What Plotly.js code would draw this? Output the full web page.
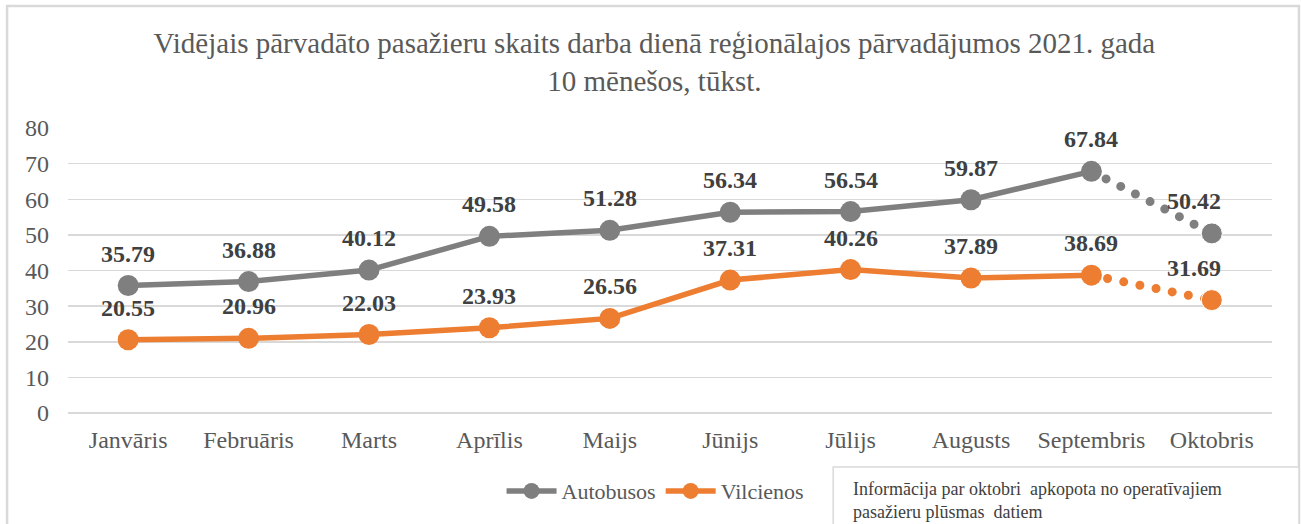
<!DOCTYPE html>
<html>
<head>
<meta charset="utf-8">
<script src="https://cdn.plot.ly/plotly-3.0.1.min.js"></script>
<style>
html,body{margin:0;padding:0;background:#fff;}
.scatterlayer path.js-line{stroke-linecap:round;}
</style>
</head>
<body>
<div id="chart" style="width:1301px;height:524px;"></div>
<script>
var months = ["Janvāris","Februāris","Marts","Aprīlis","Maijs","Jūnijs","Jūlijs","Augusts","Septembris","Oktobris"];
var autobusos = [35.79, 36.88, 40.12, 49.58, 51.28, 56.34, 56.54, 59.87, 67.84, 50.42];
var vilcienos = [20.55, 20.96, 22.03, 23.93, 26.56, 37.31, 40.26, 37.89, 38.69, 31.69];
var seriesNames = ["Autobusos","Vilcienos"];
var titleText = "Vidējais pārvadāto pasažieru skaits darba dienā reģionālajos pārvadājumos 2021. gada<br>10 mēnešos, tūkst.";
var noteText = "Informācija par oktobri  apkopota no operatīvajiem<br>pasažieru plūsmas  datiem";

var GRAY = "#7f7f7f", ORANGE = "#ed7d31";
var SERIF = "Liberation Serif";
var nSolid = 9; // Jan..Sep solid, Sep->Oct dotted

function solid(arr){ return arr.slice(0, nSolid); }
function tail(arr){ return arr.slice(nSolid - 1); }

var traces = [
  {x: solid(months), y: solid(autobusos), name: seriesNames[0], type: "scatter", mode: "lines+markers",
   line: {color: GRAY, width: 5.5}, marker: {color: GRAY, size: 21, opacity: 1}, legendgroup: "a"},
  {x: tail(months), y: tail(autobusos), name: seriesNames[0], type: "scatter", mode: "lines+markers",
   line: {color: GRAY, width: 9, dash: "0px,16.5px"}, marker: {color: GRAY, size: [0, 21], opacity: 1}, showlegend: false, legendgroup: "a"},
  {x: solid(months), y: solid(vilcienos), name: seriesNames[1], type: "scatter", mode: "lines+markers",
   line: {color: ORANGE, width: 5.5}, marker: {color: ORANGE, size: 21, opacity: 1}, legendgroup: "v"},
  {x: tail(months), y: tail(vilcienos), name: seriesNames[1], type: "scatter", mode: "lines+markers",
   line: {color: ORANGE, width: 9, dash: "0px,16.5px"}, marker: {color: ORANGE, size: [0, 21], opacity: 1}, showlegend: false, legendgroup: "v"}
];

var annotations = [];
[autobusos, vilcienos].forEach(function(arr){
  arr.forEach(function(v, i){
    annotations.push({x: months[i], y: v, xref: "x", yref: "y", text: "<b>" + v.toFixed(2) + "</b>",
      showarrow: false, yshift: 32, xshift: (i === months.length - 1 ? -18 : 0),
      font: {family: SERIF, size: 24, color: "#404040"}});
  });
});
annotations.push({xref: "paper", yref: "paper", x: 0.6505, y: -0.2246, xanchor: "left", yanchor: "top",
  align: "left", showarrow: false, text: noteText,
  font: {family: SERIF, size: 18, color: "#404040"}});

var layout = {
  width: 1301, height: 524,
  margin: {l: 68, r: 29, t: 128, b: 111},
  paper_bgcolor: "#ffffff", plot_bgcolor: "#ffffff",
  font: {family: SERIF, color: "#595959", size: 24},
  title: {text: titleText, x: 0.503, xanchor: "center", y: 0.899, yanchor: "top", yref: "container",
          font: {family: SERIF, size: 29, color: "#595959"}},
  xaxis: {type: "category", range: [-0.5, 9.5], showgrid: false, zeroline: false, showline: false, ticks: "",
          ticklabelstandoff: 10, tickfont: {family: SERIF, size: 24, color: "#595959"}, fixedrange: true},
  yaxis: {range: [0, 80], dtick: 10, showgrid: true, gridcolor: "#d9d9d9", gridwidth: 1.5,
          zeroline: true, zerolinecolor: "#d9d9d9", zerolinewidth: 1.5, showline: false, ticks: "",
          ticklabelstandoff: 18, tickfont: {family: SERIF, size: 24, color: "#595959"}, fixedrange: true},
  showlegend: true,
  legend: {orientation: "h", x: 0.488, xanchor: "center", y: -0.274, yanchor: "middle",
           font: {family: SERIF, size: 22, color: "#595959"}, bgcolor: "rgba(0,0,0,0)", itemwidth: 50},
  shapes: [
    {type: "rect", xref: "paper", yref: "paper", x0: -0.0506, x1: 1.0224, y0: -0.5, y1: 1.428,
     line: {color: "#d9d9d9", width: 2.5}, fillcolor: "rgba(0,0,0,0)", layer: "above"},
    {type: "rect", xref: "paper", yref: "paper", x0: 0.6355, x1: 1.0224, y0: -0.5, y1: -0.1895,
     line: {color: "#d9d9d9", width: 1.5}, fillcolor: "#ffffff", layer: "above"}
  ],
  annotations: annotations
};

Plotly.newPlot("chart", traces, layout, {displayModeBar: false, staticPlot: true});
</script>
</body>
</html>
